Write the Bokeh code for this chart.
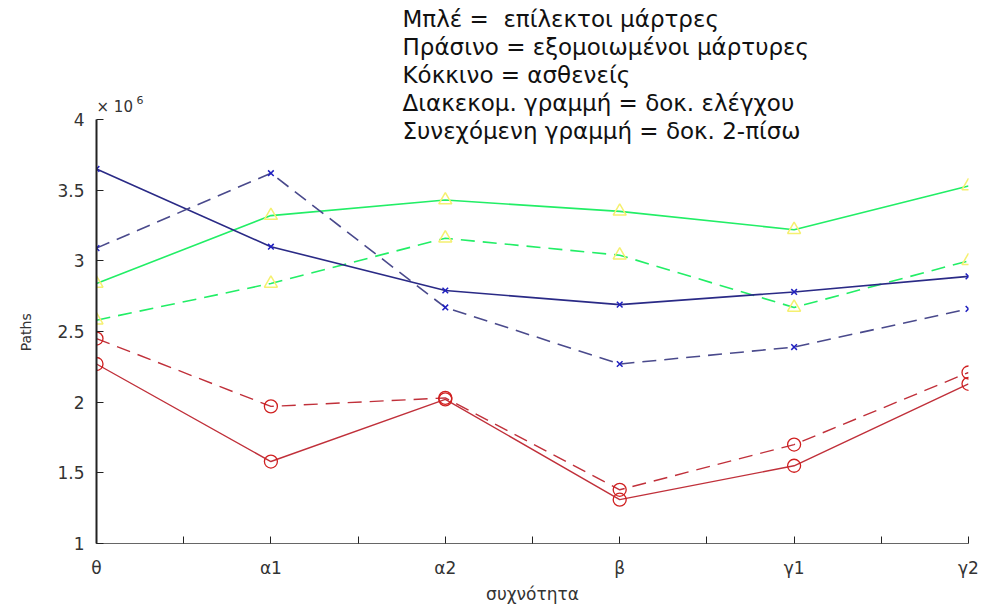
from bokeh.plotting import figure
from bokeh.models import FixedTicker, Label, Range1d
from bokeh.embed import file_html
from bokeh.resources import INLINE

# ---- data (values in units of 10^6) ----
categories = ["θ", "α1", "α2", "β", "γ1", "γ2"]
blue_solid = [3.65, 3.10, 2.79, 2.69, 2.78, 2.89]
blue_dashed = [3.09, 3.62, 2.67, 2.27, 2.39, 2.66]
green_solid = [2.84, 3.32, 3.43, 3.35, 3.22, 3.53]
green_dashed = [2.58, 2.84, 3.16, 3.04, 2.67, 3.00]
red_dashed = [2.45, 1.97, 2.03, 1.38, 1.70, 2.21]
red_solid = [2.27, 1.58, 2.02, 1.31, 1.55, 2.13]
y_ticks = [1, 1.5, 2, 2.5, 3, 3.5, 4]
notes = [
    "Μπλέ =  επίλεκτοι μάρτρες",
    "Πράσινο = εξομοιωμένοι μάρτυρες",
    "Κόκκινο = ασθενείς",
    "Διακεκομ. γραμμή = δοκ. ελέγχου",
    "Συνεχόμενη γραμμή = δοκ. 2-πίσω",
]

xs = list(range(len(categories)))
Y0, Y1 = y_ticks[0], y_ticks[-1]

# frame: left 96, right 968, bottom 543; value 4 sits at pixel 119; frame top at 5
TOP, BOTTOM, TICKTOP = 5, 543, 119
y_max = Y0 + (BOTTOM - TOP) * (Y1 - Y0) / (BOTTOM - TICKTOP)

p = figure(width=983, height=607, output_backend="svg", toolbar_location=None,
           x_range=Range1d(xs[0], xs[-1]), y_range=Range1d(Y0, y_max),
           min_border_left=96, min_border_right=15, min_border_top=TOP, min_border_bottom=64)
p.outline_line_color = None
p.xgrid.visible = False
p.ygrid.visible = False
p.background_fill_color = "white"

FONT = "DejaVu Sans"
NB = "\u00a0"

# axes
p.xaxis.ticker = FixedTicker(ticks=xs, minor_ticks=[i + 0.5 for i in xs[:-1]])
p.xaxis.major_label_overrides = {i: c for i, c in zip(xs, categories)}
p.yaxis.ticker = FixedTicker(ticks=y_ticks, minor_ticks=[])
p.yaxis.major_label_overrides = {t: ("%g" % t) for t in y_ticks}
p.yaxis.bounds = (Y0, Y1)
for ax in (p.xaxis[0], p.yaxis[0]):
    ax.major_tick_in = 7
    ax.major_tick_out = 0
    ax.minor_tick_in = 7
    ax.minor_tick_out = 0
    ax.axis_line_color = "#222222"
    ax.major_tick_line_color = "#222222"
    ax.minor_tick_line_color = "#222222"
    ax.major_label_text_font = FONT
    ax.major_label_text_color = "#333333"
    ax.axis_label_text_font = FONT
    ax.axis_label_text_font_style = "normal"
    ax.axis_label_text_color = "#333333"
p.xaxis.major_label_text_font_size = "17px"
p.yaxis.major_label_text_font_size = "17px"
p.xaxis.axis_label_text_font_size = "17px"
p.yaxis.axis_label_text_font_size = "14px"
p.yaxis.axis_line_width = 2
p.xaxis.axis_line_color = "#666666"
p.xaxis.axis_label = "συχνότητα"
# the axis label is centred on the whole frame; pad the end so "Paths" sits mid-axis
p.yaxis.axis_label = "Paths" + NB * 26
p.xaxis.major_label_standoff = 14
p.yaxis.major_label_standoff = 12
p.yaxis.axis_label_standoff = 20
p.xaxis.axis_label_standoff = 3

# series
BLUE = "#2a2a86"
BLUE_D = "#4a4a8c"
GREEN = "#22ee66"
RED = "#c0303a"
DASH = "14 8"

p.line(xs, green_solid, color=GREEN, line_width=1.6)
p.line(xs, green_dashed, color=GREEN, line_width=1.6, line_dash=DASH)
p.scatter(xs, green_solid, marker="triangle", size=13, fill_color=None, line_color="#f5f070", line_width=1.5)
p.scatter(xs, green_dashed, marker="triangle", size=13, fill_color=None, line_color="#f5f070", line_width=1.5)

p.line(xs, blue_solid, color=BLUE, line_width=1.6)
p.line(xs, blue_dashed, color=BLUE_D, line_width=1.6, line_dash=DASH)
p.scatter(xs, blue_solid, marker="x", size=8, line_color="#2020c0", line_width=1.5)
p.scatter(xs, blue_dashed, marker="x", size=8, line_color="#2020c0", line_width=1.5)

p.line(xs, red_solid, color=RED, line_width=1.4)
p.line(xs, red_dashed, color=RED, line_width=1.4, line_dash=DASH)
p.scatter(xs, red_solid, marker="circle", size=13, fill_color=None, line_color="#d02020", line_width=1.3)
p.scatter(xs, red_dashed, marker="circle", size=13, fill_color=None, line_color="#d02020", line_width=1.3)

# scale label (× 10^6) just above the top of the y axis
p.add_layout(Label(x=xs[0], y=Y1, text="× 10", text_font=FONT, text_font_size="15px",
                   text_color="#333333", text_baseline="middle", x_offset=0, y_offset=13))
p.add_layout(Label(x=xs[0], y=Y1, text="6", text_font=FONT, text_font_size="11px",
                   text_color="#333333", text_baseline="middle", x_offset=40, y_offset=20))

# notes
for i, t in enumerate(notes):
    p.add_layout(Label(x=xs[0], y=Y1, text=t.replace("  ", " " + NB), text_font=FONT,
                       text_font_size="23px", text_color="#111111", text_baseline="middle",
                       x_offset=306, y_offset=101 - 28 * i))

open("out.html", "w").write(file_html(p, INLINE))
